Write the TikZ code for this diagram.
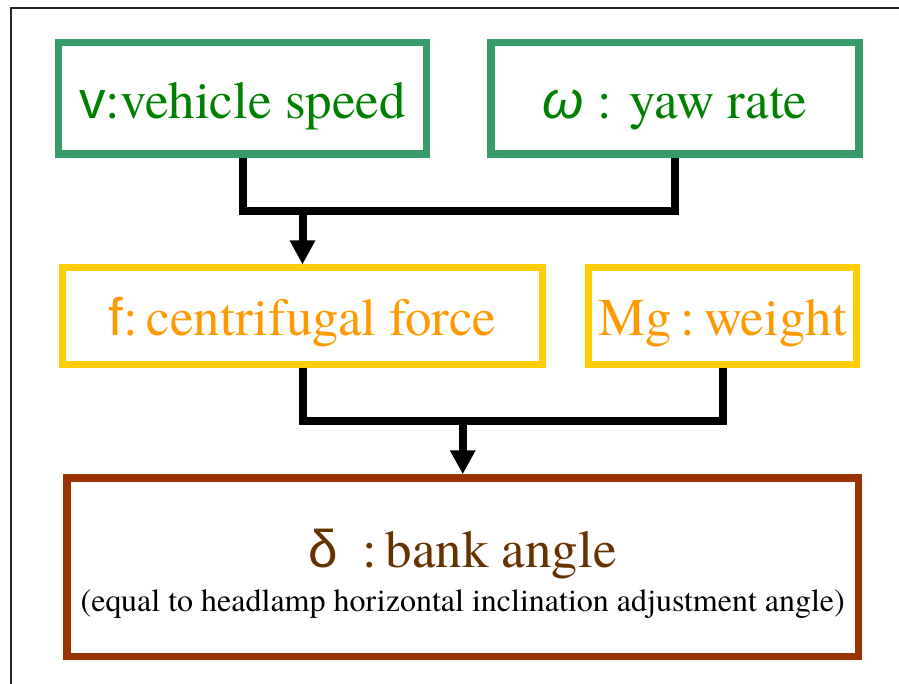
\documentclass[tikz,border=0pt]{standalone}
\usepackage{fontspec}
\setmainfont{texgyretermes-regular.otf}
\newfontfamily\termesfont{texgyretermes-regular.otf}
\newfontfamily\arialfont{Liberation Sans}
\usetikzlibrary{arrows.meta}
\definecolor{grnline}{RGB}{56,154,104}
\definecolor{grntext}{RGB}{0,128,0}
\definecolor{ylwline}{RGB}{255,204,0}
\definecolor{orgtext}{RGB}{255,153,0}
\definecolor{brnline}{RGB}{153,51,0}
\definecolor{brntext}{RGB}{102,51,0}
\newcommand\boxtext[2]{{\fontsize{53}{44.5}\selectfont\color{#1}\rule[-12pt]{0pt}{64pt}#2}}
\tikzset{
  qbox/.style = {draw, rectangle, line width=7.5pt, inner sep=0pt, align=center,
    font=\termesfont\fontsize{32}{44.5}\selectfont},
  in_box/.style = {qbox, draw=grnline, minimum width=368pt, minimum height=111.5pt},
  mid_box/.style = {qbox, draw=ylwline, line width=7pt, minimum height=96pt},
  out_box/.style = {qbox, draw=brnline, minimum width=791.5pt, minimum height=178.5pt},
  conn/.style = {line width=8pt, black},
  arr/.style = {conn, -{Triangle[width=24pt,length=24pt]}}
}
\begin{document}
\begin{tikzpicture}[x=1pt,y=-1pt]
\useasboundingbox (0,0) rectangle (899,684);
\draw[line width=2pt, black!85] (10.5,700) |- (910,8);
% inputs
\node [in_box] (speed) at (242.5,98.25) {\boxtext{grntext}{{\arialfont v}:vehicle speed}};
\node [in_box] (yaw) at (675,98.25) {\boxtext{grntext}{{\arialfont\itshape ω} : yaw rate}};
% forces
\node [mid_box, minimum width=480pt] (cforce) at (302.5,316) {\boxtext{orgtext}{{\arialfont f}:\,centrifugal force}};
\node [mid_box, minimum width=268pt] (weight) at (722.5,316) {\boxtext{orgtext}{Mg\,:\,weight}};
% result
\node [out_box] (bank) at (462.75,567.25)
  {{\fontsize{53}{44.5}\selectfont\color{brntext}\rule{0pt}{51.5pt}{\arialfont δ}\hspace{0.45em}:\,bank angle}\\
   (equal to headlamp horizontal inclination adjustment angle)};
\coordinate (j1) at (cforce.north |- 0,211);
\coordinate (j2) at (bank.north |- 0,420.5);
\draw [conn] (speed.south) |- (j1) -| (yaw.south);
\draw [arr] (j1) -- (cforce.north);
\draw [conn] (cforce.south) |- (j2) -| (weight.south);
\draw [arr] (j2) -- (bank.north);
\end{tikzpicture}
\end{document}
